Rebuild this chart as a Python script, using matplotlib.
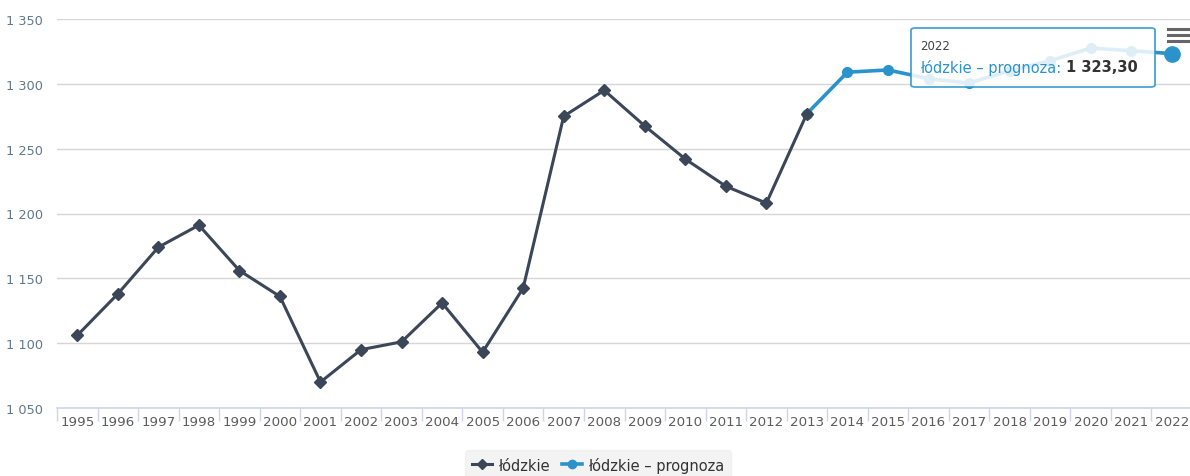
import matplotlib.pyplot as plt
from matplotlib.patches import FancyBboxPatch
from matplotlib.lines import Line2D

years = [str(y) for y in range(1995, 2023)]
hist_values = [1106, 1138, 1174, 1191, 1156, 1136, 1070, 1095, 1101, 1131,
               1093, 1142.5, 1275, 1295, 1267.5, 1242, 1221, 1208, 1277]
forecast_years = years[18:]
forecast_values = [1277, 1309, 1310.7, 1304, 1300.6, 1310, 1317.8, 1327.6, 1325.5, 1323.3]

dark = '#3b4658'
blue = '#2b93cc'

plt.rcParams['font.family'] = ['DejaVu Sans']

fig = plt.figure(figsize=(11.9, 4.77), dpi=100)
W, H = 1190, 477
ax = fig.add_axes([57 / W, 1 - 409 / H, (1192 - 57) / W, (409 - 20) / H])

x_hist = list(range(len(hist_values)))
x_fc = list(range(18, 18 + len(forecast_values)))

ax.plot(x_fc, forecast_values, color=blue, lw=2.6, marker='o', ms=7, zorder=3)
ax.plot(x_fc[-1], forecast_values[-1], 'o', color=blue, ms=11, zorder=4)
ax.plot(x_hist, hist_values, color=dark, lw=2.2, marker='D', ms=6, zorder=5)

ax.set_xlim(-0.5, 27.5)
ax.set_ylim(1050, 1350)
ax.set_yticks(range(1050, 1351, 50))
ax.set_yticklabels(['1 %03d' % (v - 1000) for v in range(1050, 1351, 50)],
                   color='#62788a', fontsize=9.3)
ax.set_xticks(range(len(years)))
ax.set_xticklabels(years, color='#5c5c5c', fontsize=9.6)
ax.set_xticks([i + 0.5 for i in range(-1, len(years))], minor=True)
ax.tick_params(axis='x', which='major', length=0, pad=5)
ax.tick_params(axis='x', which='minor', length=9, color='#ccd6eb', width=1)
ax.tick_params(axis='y', length=0, pad=10)
ax.grid(axis='y', color='#d6d6d6', lw=1)
for s in ['top', 'right', 'left']:
    ax.spines[s].set_visible(False)
ax.spines['bottom'].set_color('#ccd6eb')
ax.spines['bottom'].set_linewidth(1.2)
ax.set_axisbelow(True)

# tooltip
tip = FancyBboxPatch((911 / W, 1 - 88 / H), (1155 - 911) / W, (88 - 29) / H,
                     boxstyle='round,pad=0,rounding_size=0.004', transform=fig.transFigure,
                     facecolor='white', alpha=0.85, edgecolor=blue, lw=1.3, zorder=10)
fig.patches.append(tip)
fig.text(920 / W, 1 - 47 / H, '2022', fontsize=8.5, color='#444444', va='center', zorder=11)
t1 = fig.text(920 / W, 1 - 68 / H, 'łódzkie – prognoza: ', fontsize=10.5, color=blue,
              va='center', zorder=11)
fig.canvas.draw()
bb = t1.get_window_extent()
fig.text(bb.x1 / W, 1 - 68 / H, '1 323,30', fontsize=10.5, color='#333333',
         fontweight='bold', va='center', zorder=11)

# menu icon
for yy in (30, 36, 42):
    fig.add_artist(Line2D([1168 / W, 1188 / W], [1 - yy / H, 1 - yy / H],
                          color='#666666', lw=2.2, transform=fig.transFigure))

handles = [Line2D([], [], color=dark, lw=2.2, marker='D', ms=5),
           Line2D([], [], color=blue, lw=2.6, marker='o', ms=6)]
leg = fig.legend(handles, ['łódzkie', 'łódzkie – prognoza'], loc='upper center',
                 bbox_to_anchor=(598 / W, 1 - 451 / H), ncol=2, frameon=True,
                 fancybox=True, facecolor='#f0f0f0', edgecolor='#f0f0f0',
                 fontsize=10.5, handlelength=1.4, handletextpad=0.4, columnspacing=0.8,
                 borderpad=0.45, borderaxespad=0, labelcolor='#333333')

fig.savefig('out.png', dpi=100)
